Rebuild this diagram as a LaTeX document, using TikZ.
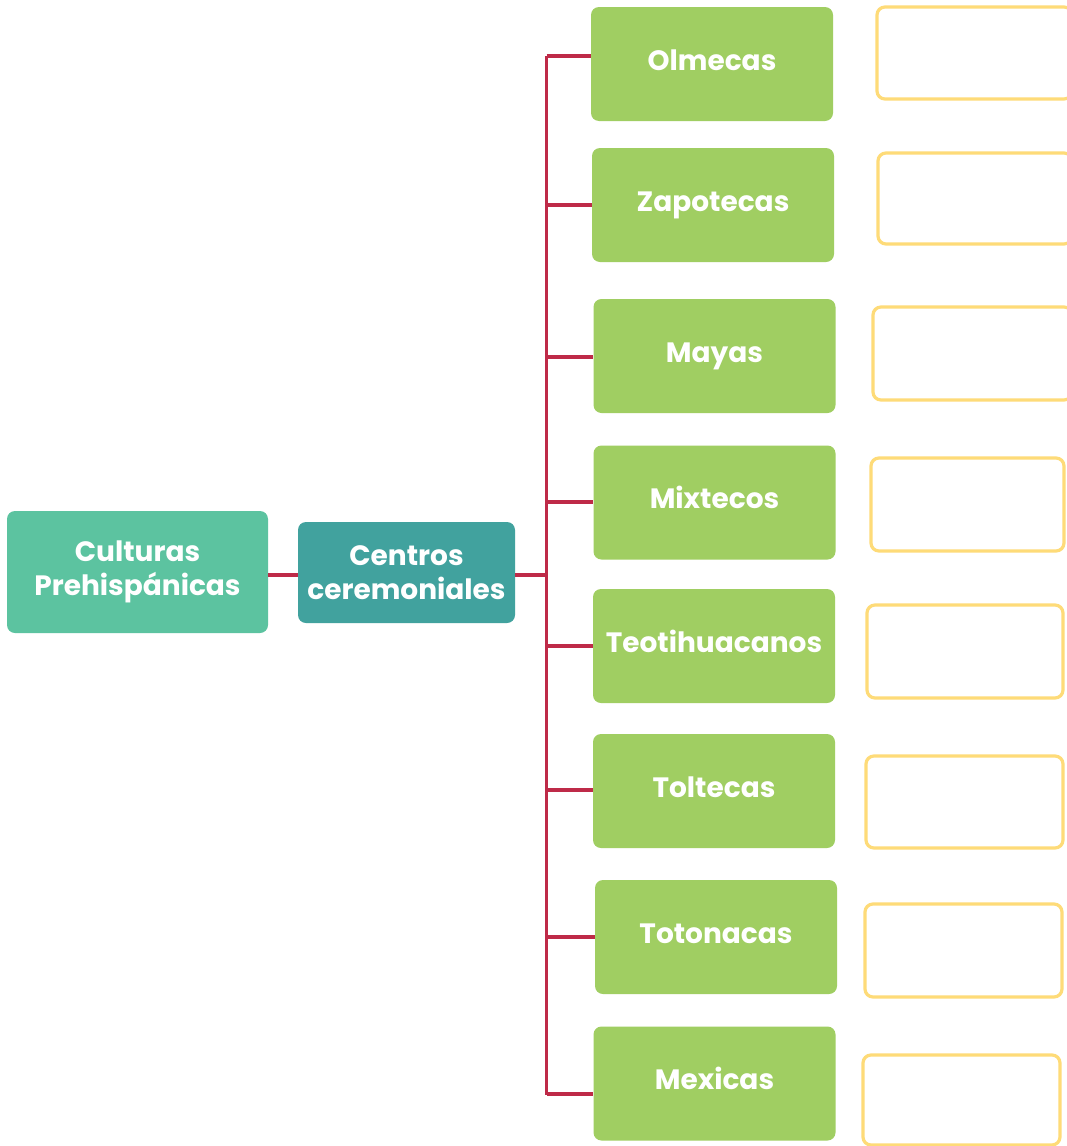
\documentclass[tikz,border=0pt]{standalone}
\usepackage{fontspec}
\setmainfont{Poppins}
\definecolor{cult}{HTML}{5CC3A0}
\definecolor{cent}{HTML}{41A29E}
\definecolor{grn}{HTML}{A0CE62}
\definecolor{ylw}{HTML}{FEDB78}
\definecolor{lnk}{HTML}{BE2A48}
\tikzset{
  box/.style={rounded corners=8pt, inner sep=0pt, text=white, align=center,
    font=\fontsize{28}{34}\selectfont\bfseries},
  culture/.style={box, fill=grn, minimum width=242pt, minimum height=114pt,
    text height=20pt, text depth=8pt},
  answer/.style={draw=ylw, line width=3.2pt, rounded corners=8pt, fill=white},
  link/.style={draw=lnk, line width=3.2pt},
}
\begin{document}
\begin{tikzpicture}[x=1pt,y=-1pt]
\useasboundingbox (0,0) rectangle (1066,1146);
\fill[white] (0,0) rectangle (1066,1146);
% root and second level
\node[box, fill=cult, minimum width=261pt, minimum height=122pt] (cult) at (137.5,572) {Culturas\\Prehispánicas};
\node[box, fill=cent, minimum width=217pt, minimum height=101pt] (cent) at (406.5,572.5) {Centros\\ceremoniales};
% culture boxes
\node[culture] (olm) at (712,64) {Olmecas};
\node[culture] (zap) at (713,205) {Zapotecas};
\node[culture] (may) at (714.5,356) {Mayas};
\node[culture] (mix) at (714.5,502.5) {Mixtecos};
\node[culture] (teo) at (714,646) {Teotihuacanos};
\node[culture] (tol) at (714,791) {Toltecas};
\node[culture] (tot) at (716,937) {Totonacas};
\node[culture] (mex) at (714.5,1083.5) {Mexicas};
% answer boxes
\draw[answer] (877,7) rectangle (1072,99);
\draw[answer] (878,153) rectangle (1072,244);
\draw[answer] (873,307) rectangle (1072,400);
\draw[answer] (871,458) rectangle (1064,551);
\draw[answer] (867,605) rectangle (1063,698);
\draw[answer] (866,756) rectangle (1063,848);
\draw[answer] (865,904) rectangle (1062,997);
\draw[answer] (863,1055) rectangle (1060,1145);
% connectors
\coordinate (trunk) at (546.5,575);
\draw[link] (cult.east |- 0,575) -- (cent.west |- 0,575);
\draw[link] (cent.east |- 0,575) -- (trunk);
\draw[link] (trunk |- 0,56) -- (trunk |- 0,1094.5);
\draw[link] (trunk |- 0,56) -- (olm.west |- 0,56);
\draw[link] (trunk |- 0,205) -- (zap.west |- 0,205);
\draw[link] (trunk |- 0,357) -- (may.west |- 0,357);
\draw[link] (trunk |- 0,502) -- (mix.west |- 0,502);
\draw[link] (trunk |- 0,646) -- (teo.west |- 0,646);
\draw[link] (trunk |- 0,790) -- (tol.west |- 0,790);
\draw[link] (trunk |- 0,937) -- (tot.west |- 0,937);
\draw[link] (trunk |- 0,1094) -- (mex.west |- 0,1094);
\end{tikzpicture}
\end{document}
